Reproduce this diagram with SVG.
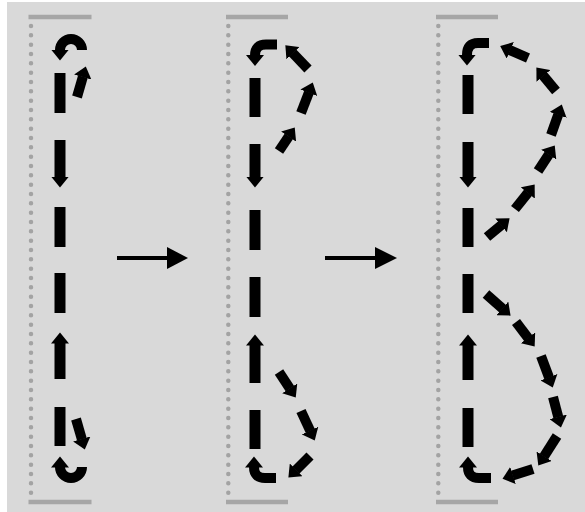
<svg xmlns="http://www.w3.org/2000/svg" width="585" height="512" viewBox="0 0 585 512">
  <defs>
    <marker id="head" markerUnits="userSpaceOnUse" markerWidth="12" markerHeight="18" refX="0.5" refY="9" orient="auto">
      <path d="M0,0 L11,9 L0,18 z" fill="#000"/>
    </marker>
    <style>
      .dash { stroke: #000; stroke-width: 11; fill: none; }
      .arr { stroke: #000; stroke-width: 10; fill: none; marker-end: url(#head); }
      .dashA { stroke: #000; stroke-width: 11; fill: none; marker-end: url(#head); }
      .bar { stroke: #a6a6a6; stroke-width: 4.5; }
      .dots { stroke: #a3a3a3; stroke-width: 4.5; stroke-linecap: round; stroke-dasharray: 0 9.334; fill: none; }
      .trans { stroke: #000; stroke-width: 4; }
    </style>
  </defs>
  <rect x="0" y="0" width="585" height="512" fill="#ffffff"/>
  <rect x="7" y="2" width="578" height="510" fill="#d9d9d9"/>

  <g id="panel1">
    <line class="bar" x1="28.5" y1="17" x2="91.5" y2="17"/>
    <line class="bar" x1="28.5" y1="502" x2="91.5" y2="502"/>
    <line class="dots" x1="31" y1="26" x2="31" y2="492.7"/>
    <line class="dash" x1="60" y1="73" x2="60" y2="113"/>
    <line class="dashA" x1="60" y1="140" x2="60" y2="177"/>
    <line class="dash" x1="60" y1="207" x2="60" y2="247"/>
    <line class="dash" x1="60" y1="273" x2="60" y2="313"/>
    <line class="dashA" x1="60" y1="379" x2="60" y2="343"/>
    <line class="dash" x1="60" y1="407" x2="60" y2="446"/>
    <path class="arr" d="M82,50 A11,11 0 0 0 60,50"/>
    <path class="arr" d="M82,467 A11,11 0 0 1 60,467"/>
    <line class="arr" x1="77" y1="97" x2="82.9" y2="76.6"/>
    <line class="arr" x1="76" y1="419" x2="81.9" y2="439.4"/>
  </g>

  <g id="panel2">
    <line class="bar" x1="226" y1="17" x2="288" y2="17"/>
    <line class="bar" x1="226" y1="502" x2="288" y2="502"/>
    <line class="dots" x1="228.3" y1="26" x2="228.3" y2="492.7"/>
    <line class="dash" x1="255" y1="78" x2="255" y2="117"/>
    <line class="dashA" x1="255" y1="144" x2="255" y2="177"/>
    <line class="dash" x1="255" y1="210" x2="255" y2="250"/>
    <line class="dash" x1="255" y1="277" x2="255" y2="317"/>
    <line class="dashA" x1="255" y1="383" x2="255" y2="345"/>
    <line class="dash" x1="255" y1="410" x2="255" y2="449"/>
    <path class="arr" d="M277,44.5 L266,44.5 Q255,44.5 255,55.5"/>
    <path class="arr" d="M276,478 L265,478 Q254,478 254,467"/>
    <line class="arr" x1="279" y1="151" x2="288.9" y2="136.2"/>
    <line class="arr" x1="301" y1="113" x2="309" y2="92.3"/>
    <line class="arr" x1="308" y1="69" x2="292.6" y2="52.9"/>
    <line class="arr" x1="279" y1="372" x2="290" y2="388.8"/>
    <line class="arr" x1="301" y1="411" x2="310.3" y2="431"/>
    <line class="arr" x1="310" y1="456" x2="295.8" y2="470.2"/>
  </g>

  <g id="panel3">
    <line class="bar" x1="436" y1="17" x2="498" y2="17"/>
    <line class="bar" x1="436" y1="502" x2="498" y2="502"/>
    <line class="dots" x1="438.3" y1="26" x2="438.3" y2="492.7"/>
    <line class="dash" x1="468" y1="75" x2="468" y2="114"/>
    <line class="dashA" x1="468" y1="142" x2="468" y2="177"/>
    <line class="dash" x1="468" y1="208" x2="468" y2="247"/>
    <line class="dash" x1="468" y1="274" x2="468" y2="313"/>
    <line class="dashA" x1="468" y1="380" x2="468" y2="345"/>
    <line class="dash" x1="468" y1="408" x2="468" y2="447"/>
    <path class="arr" d="M489,43 L478,43 Q467,43 467,55"/>
    <path class="arr" d="M491,478 L479,478 Q468,478 468,467"/>
    <line class="arr" x1="487" y1="237" x2="501.5" y2="225"/>
    <line class="arr" x1="515" y1="209" x2="528.1" y2="192.6"/>
    <line class="arr" x1="538" y1="171" x2="549" y2="154.2"/>
    <line class="arr" x1="551" y1="135" x2="558.3" y2="114.4"/>
    <line class="arr" x1="556" y1="91" x2="543.1" y2="75.5"/>
    <line class="arr" x1="528" y1="58" x2="509.8" y2="50.1"/>
    <line class="arr" x1="486" y1="294" x2="502.7" y2="308.7"/>
    <line class="arr" x1="516" y1="322" x2="528.3" y2="338.2"/>
    <line class="arr" x1="541" y1="356" x2="549.1" y2="377.7"/>
    <line class="arr" x1="553" y1="397" x2="558.3" y2="417.3"/>
    <line class="arr" x1="557" y1="436" x2="543.9" y2="456.7"/>
    <line class="arr" x1="533" y1="469" x2="512.5" y2="475.6"/>
  </g>

  <g id="connectors">
    <line class="trans" x1="117" y1="258" x2="168" y2="258"/>
    <polygon points="167,247 188,258 167,269" fill="#000"/>
    <line class="trans" x1="325" y1="258" x2="376" y2="258"/>
    <polygon points="375,247 397,258 375,269" fill="#000"/>
  </g>
</svg>
